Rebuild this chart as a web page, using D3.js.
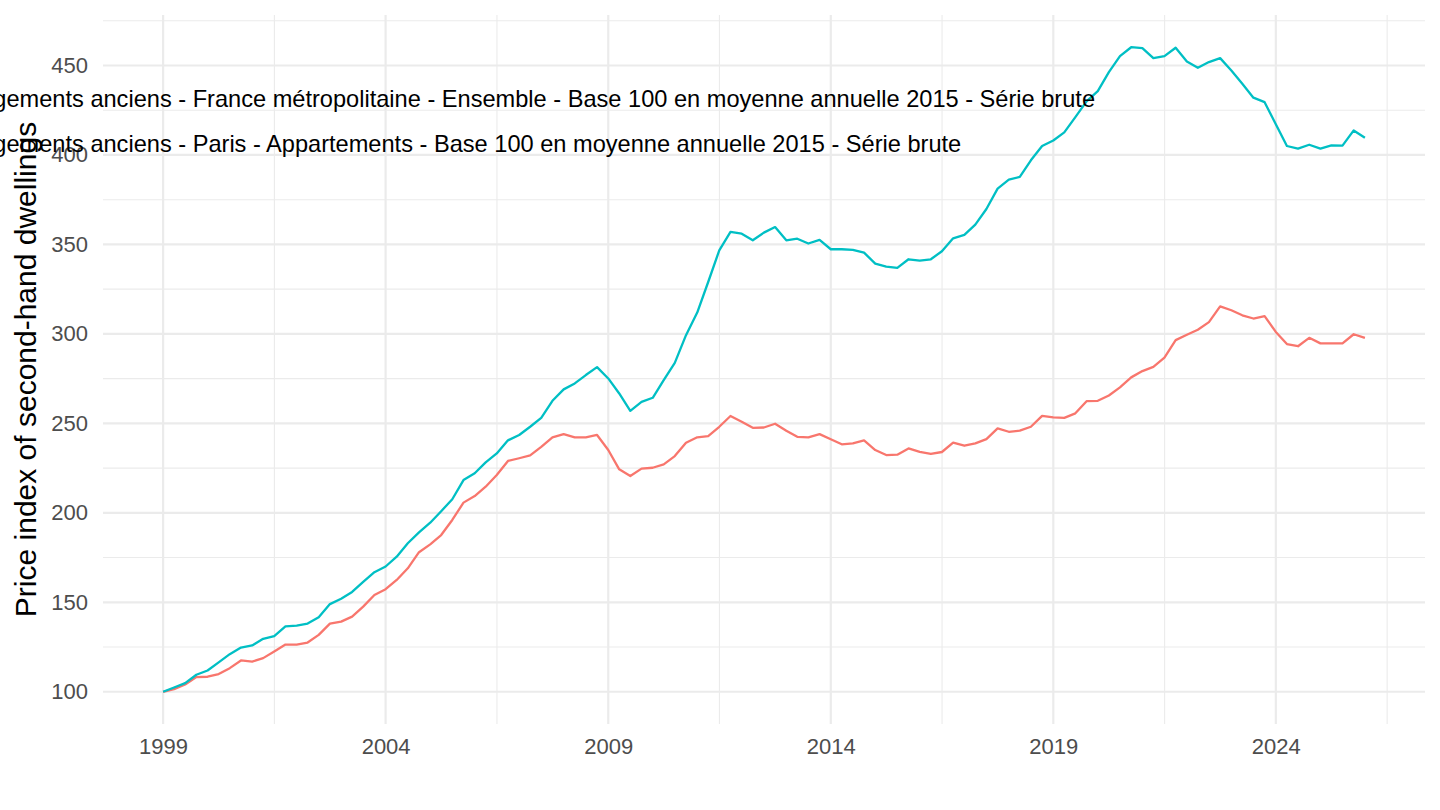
<!DOCTYPE html>
<html>
<head>
<meta charset="utf-8">
<script src="https://cdn.jsdelivr.net/npm/d3@7"></script>
<style>
	body { margin: 0; background: #ffffff; }
	svg { display: block; font-family: "Liberation Sans", Arial, sans-serif; }
</style>
</head>
<body>
<div id="chart"></div>
<script>
// quarterly observations, first quarter of 1999 up to first quarter of 2026
var firstQuarter = new Date(1999, 0, 1);
var lastQuarter = new Date(2026, 0, 1);

var seriesLabels = [
	'Indice des prix des logements anciens - France métropolitaine - Ensemble - Base 100 en moyenne annuelle 2015 - Série brute',
	'Indice des prix des logements anciens - Paris - Appartements - Base 100 en moyenne annuelle 2015 - Série brute'
];

// France métropolitaine - Ensemble
var franceValues = [
	100, 101.5, 104.1, 108.2, 108.4, 109.9, 113.2, 117.5, 116.9, 118.8,
	122.5, 126.4, 126.4, 127.5, 131.8, 138.1, 139.2, 142, 147.6, 154.1,
	157.3, 162.5, 169, 178, 182.4, 187.6, 196, 205.7, 209.4, 214.6,
	221.1, 229, 230.5, 232.1, 236.9, 242.2, 244, 242.2, 242.2, 243.5,
	235.1, 224.3, 220.6, 224.7, 225.2, 227.1, 231.7, 239.2, 242.2, 242.9,
	248.1, 254.1, 250.9, 247.5, 247.7, 249.8, 245.9, 242.5, 242.2, 244,
	241.1, 238.3, 238.8, 240.5, 235.1, 232.3, 232.5, 236, 234.1, 233,
	234, 239.2, 237.5, 238.8, 241.2, 247.2, 245.3, 245.9, 248.1, 254.2,
	253.3, 253.1, 255.6, 262.4, 262.6, 265.6, 270.1, 275.7, 279.2, 281.6,
	286.8, 296.5, 299.5, 302.3, 306.6, 315.4, 313.2, 310.4, 308.6, 309.9,
	301.1, 294.3, 293.1, 297.8, 294.7, 294.7, 294.7, 299.8, 297.8
];

// Paris - Appartements
var parisValues = [
	100, 102.4, 104.8, 109.5, 111.9, 116.4, 121, 124.7, 125.9, 129.6,
	131.1, 136.5, 137, 138.1, 141.7, 149, 152, 155.8, 161.4, 166.8,
	170, 175.5, 183, 189.1, 194.5, 200.9, 207.6, 218.3, 222.1, 228.2,
	233.2, 240.5, 243.5, 248.1, 253.1, 262.6, 269, 272.3, 277, 281.4,
	275.1, 266.7, 257, 262, 264.3, 274.2, 283.8, 299.3, 311.9, 329,
	346.7, 357, 356, 352.3, 356.6, 359.7, 352.3, 353.2, 350.5, 352.5,
	347.3, 347.3, 346.9, 345.4, 339.3, 337.6, 336.9, 341.7, 341, 341.7,
	346.2, 353.4, 355.3, 361.1, 369.8, 381.2, 386.2, 387.7, 397, 405,
	408.1, 412.6, 421.1, 429.9, 435.7, 446.3, 455.2, 460.2, 459.7, 454.1,
	455.2, 459.9, 452.2, 448.7, 451.9, 454.1, 447.2, 439.8, 432, 429.5,
	417.1, 405, 403.5, 405.7, 403.5, 405.3, 405.2, 413.7, 409.6
];

var yTicks = [100, 150, 200, 250, 300, 350, 400, 450];
var yMinorTicks = [125, 175, 225, 275, 325, 375, 425, 475];
var xTickYears = [1999, 2004, 2009, 2014, 2019, 2024];
var xMinorYears = [2001.5, 2006.5, 2011.5, 2016.5, 2021.5, 2026.5];

var yTitle = 'Price index of second-hand dwellings';
var seriesColors = ['#F8766D', '#00BFC4'];

var width = 1440, height = 810;
var margin = { top: 15, right: 15, bottom: 86, left: 103 };

var svg = d3.select('#chart').append('svg')
	.attr('width', width).attr('height', height);

var quarters = d3.timeMonth.every(3).range(firstQuarter, d3.timeDay.offset(lastQuarter, 1));
var series = [franceValues, parisValues].map(function(values) {
	return values.map(function(v, i) { return { date: quarters[i], value: v }; });
});

// ggplot style 5% expansion on both axes
var xExt = [firstQuarter, lastQuarter];
var xPad = (xExt[1] - xExt[0]) * 0.05;
var x = d3.scaleTime()
	.domain([new Date(+xExt[0] - xPad), new Date(+xExt[1] + xPad)])
	.range([margin.left, width - margin.right]);

var allValues = franceValues.concat(parisValues);
var yExt = d3.extent(allValues);
var yPad = (yExt[1] - yExt[0]) * 0.05;
var y = d3.scaleLinear()
	.domain([yExt[0] - yPad, yExt[1] + yPad])
	.range([height - margin.bottom, margin.top]);

function yearDate(yr) {
	var whole = Math.floor(yr);
	var start = new Date(whole, 0, 1);
	return new Date(+start + (yr - whole) * (new Date(whole + 1, 0, 1) - start));
}

// grid
var grid = svg.append('g');
grid.selectAll('.ymin').data(yMinorTicks).enter().append('line')
	.attr('x1', margin.left).attr('x2', width - margin.right)
	.attr('y1', function(d) { return y(d); }).attr('y2', function(d) { return y(d); })
	.attr('stroke', '#EBEBEB').attr('stroke-width', 1.1);
grid.selectAll('.xmin').data(xMinorYears).enter().append('line')
	.attr('x1', function(d) { return x(yearDate(d)); }).attr('x2', function(d) { return x(yearDate(d)); })
	.attr('y1', margin.top).attr('y2', height - margin.bottom)
	.attr('stroke', '#EBEBEB').attr('stroke-width', 1.1);
grid.selectAll('.ymaj').data(yTicks).enter().append('line')
	.attr('x1', margin.left).attr('x2', width - margin.right)
	.attr('y1', function(d) { return y(d); }).attr('y2', function(d) { return y(d); })
	.attr('stroke', '#EBEBEB').attr('stroke-width', 2.2);
grid.selectAll('.xmaj').data(xTickYears).enter().append('line')
	.attr('x1', function(d) { return x(yearDate(d)); }).attr('x2', function(d) { return x(yearDate(d)); })
	.attr('y1', margin.top).attr('y2', height - margin.bottom)
	.attr('stroke', '#EBEBEB').attr('stroke-width', 2.2);

// axes, no domain line and no tick marks (theme_minimal)
var yAxis = d3.axisLeft(y).tickValues(yTicks).tickSize(0).tickPadding(15);
var axisY = svg.append('g').attr('transform', `translate(${margin.left},0)`).call(yAxis);
var xAxis = d3.axisBottom(x).tickValues(xTickYears.map(yearDate)).tickFormat(d3.timeFormat('%Y')).tickSize(0).tickPadding(14);
var axisX = svg.append('g').attr('transform', `translate(0,${height - margin.bottom})`).call(xAxis);
[axisX, axisY].forEach(function(a) {
	a.select('.domain').remove();
	a.selectAll('text')
		.attr('font-family', '"Liberation Sans", Arial, sans-serif')
		.attr('font-size', 22).attr('fill', '#4D4D4D');
});

// lines
var line = d3.line()
	.x(function(d) { return x(d.date); })
	.y(function(d) { return y(d.value); });
svg.append('g').selectAll('path').data(series).enter().append('path')
	.attr('d', line)
	.attr('fill', 'none')
	.attr('stroke', function(d, i) { return seriesColors[i]; })
	.attr('stroke-width', 2.3)
	.attr('stroke-linejoin', 'round');

// labels of the two series, left aligned on the same x, cut by the left edge
var labels = svg.append('g')
	.attr('font-size', 23.6).attr('fill', '#000000');
var first = labels.append('text').attr('y', 106.5).text(seriesLabels[0]);
var startX = 1095 - first.node().getComputedTextLength();
first.attr('x', startX);
labels.append('text').attr('x', startX).attr('y', 151.5).text(seriesLabels[1]);

// y title
svg.append('text')
	.text(yTitle)
	.attr('font-size', 30)
	.attr('fill', '#000000')
	.attr('text-anchor', 'middle')
	.attr('transform', `translate(36,${(margin.top + height - margin.bottom) / 2}) rotate(-90)`);
</script>
</body>
</html>
